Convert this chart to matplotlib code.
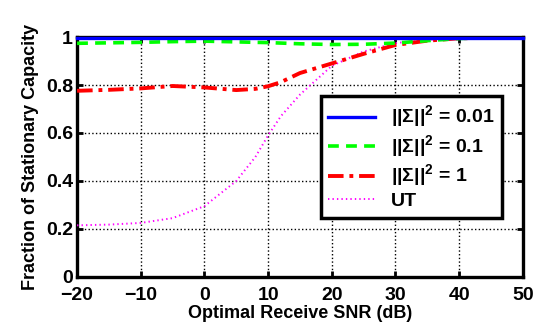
import numpy as np
import matplotlib.pyplot as plt

plt.rcParams['font.family'] = ['Liberation Sans', 'DejaVu Sans']
plt.rcParams['font.weight'] = 'bold'
plt.rcParams['mathtext.fontset'] = 'custom'
plt.rcParams['mathtext.rm'] = 'Liberation Sans:bold'
plt.rcParams['mathtext.bf'] = 'Liberation Sans:bold'

# values
snr = [-20, -15, -10, -5, 0, 5, 8, 10, 12, 15, 20, 25, 30, 35, 40, 45, 50]
sig_001 = [0.995] * len(snr)
sig_01 = [0.974, 0.976, 0.978, 0.981, 0.983, 0.980, 0.978, 0.977, 0.975, 0.972, 0.969, 0.970, 0.975, 0.985, 0.994, 0.997, 0.997]
sig_1 = [0.776, 0.780, 0.786, 0.796, 0.790, 0.779, 0.784, 0.795, 0.812, 0.850, 0.890, 0.930, 0.967, 0.985, 0.995, 0.997, 0.997]
ut = [0.215, 0.218, 0.225, 0.245, 0.295, 0.400, 0.500, 0.590, 0.670, 0.760, 0.880, 0.940, 0.975, 0.988, 0.995, 0.997, 0.997]

labels = [r'||Σ||$^{\mathbf{2}}$ = 0.01', r'||Σ||$^{\mathbf{2}}$ = 0.1',
          r'||Σ||$^{\mathbf{2}}$ = 1', 'UT']

fig = plt.figure(figsize=(5.39, 3.34), dpi=100)
ax = fig.add_axes([0.143, 0.171, 0.827, 0.718])

ax.plot(snr, sig_001, color='#0000ff', lw=2.4, ls='-', label=labels[0], zorder=5, clip_on=False)
ax.plot(snr, sig_01, color='#00ff00', lw=2.6, ls=(0, (3, 2)), label=labels[1], zorder=4)
ax.plot(snr, sig_1, color='#ff0000', lw=2.8, ls=(0, (4, 1.5, 1, 1.5)), label=labels[2], zorder=3)
ax.plot(snr, ut, color='#ff00ff', lw=1.4, ls=(0, (0.7, 1.6)), label=labels[3], zorder=2.6)

ax.set_xlim(-20, 50)
ax.set_ylim(0, 1)
ax.set_xticks(range(-20, 51, 10))
ax.set_yticks([0, 0.2, 0.4, 0.6, 0.8, 1])
ax.set_yticklabels(['0', '0.2', '0.4', '0.6', '0.8', '1'])
ax.set_xticklabels(['\u221220', '\u221210', '0', '10', '20', '30', '40', '50'])
ax.grid(True, ls=':', color='black', lw=1)
ax.tick_params(direction='in', top=True, right=True, labelsize=14, width=2, length=4)
ax.tick_params(axis='x', pad=7)
ax.tick_params(axis='y', pad=3)
for s in ax.spines.values():
    s.set_linewidth(2.4)

ax.set_xlabel('Optimal Receive SNR (dB)', fontsize=13, fontweight='bold', labelpad=1)
ax.set_ylabel('Fraction of Stationary Capacity', fontsize=13, fontweight='bold', labelpad=5)

leg = ax.legend(loc='upper right', bbox_to_anchor=(0.953, 0.754), borderaxespad=0,
                fancybox=False, framealpha=1, edgecolor='black', fontsize=14,
                handlelength=2.4, labelspacing=0.15, borderpad=0.4)
leg.get_frame().set_linewidth(2.5)
leg.set_zorder(6)

fig.savefig('out.png', dpi=100)
